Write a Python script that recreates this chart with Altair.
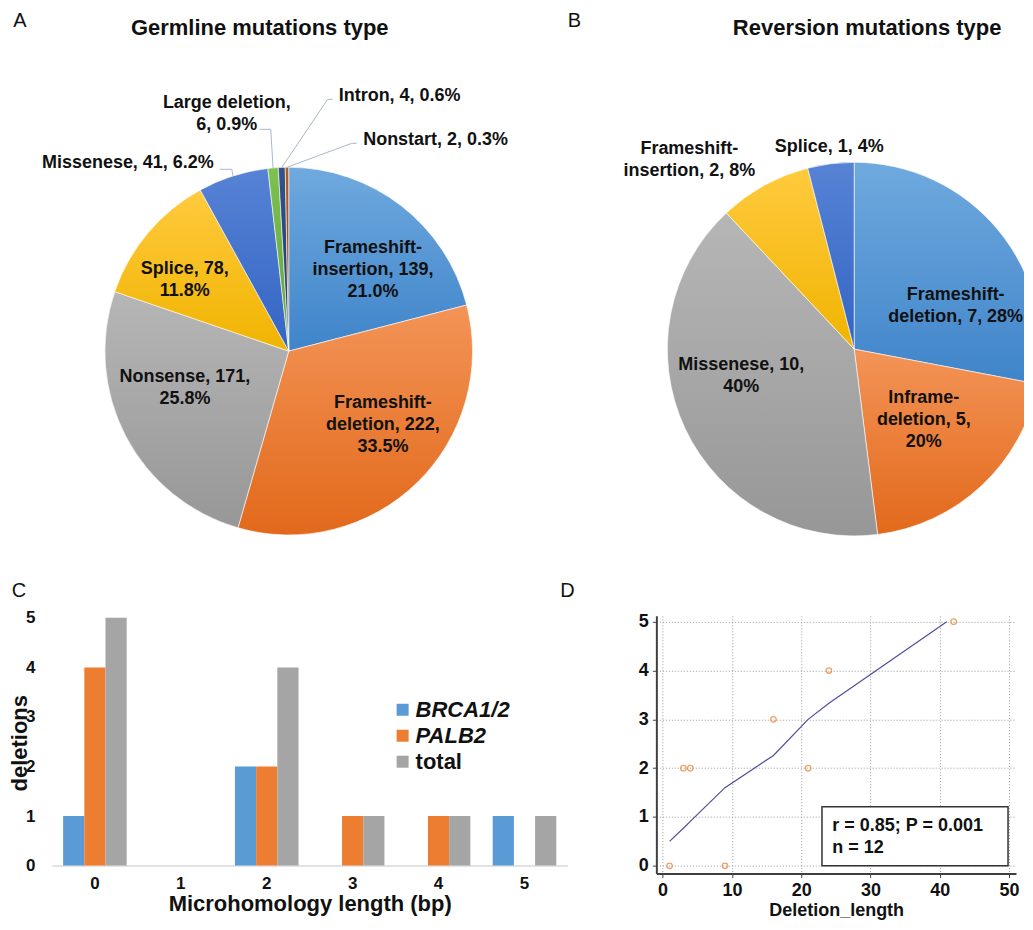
import altair as alt
import pandas as pd

FONT = "Liberation Sans"
INK = "#111111"

# ---------------- data ----------------
# A: germline mutation types (clockwise from 12 o'clock)
germ_types = ["Frameshift-insertion", "Frameshift-deletion", "Nonsense", "Splice",
              "Missenese", "Large deletion", "Intron", "Nonstart"]
germ_counts = [139, 222, 171, 78, 41, 6, 4, 2]
germ_labels = ["Frameshift-\ninsertion, 139,\n21.0%", "Frameshift-\ndeletion, 222,\n33.5%",
               "Nonsense, 171,\n25.8%", "Splice, 78,\n11.8%", "Missenese, 41, 6.2%",
               "Large deletion,\n6, 0.9%", "Intron, 4, 0.6%", "Nonstart, 2, 0.3%"]

# B: reversion mutation types
rev_types = ["Frameshift-deletion", "Inframe-deletion", "Missenese", "Frameshift-insertion", "Splice"]
rev_counts = [7, 5, 10, 2, 1]
rev_labels = ["Frameshift-\ndeletion, 7, 28%", "Inframe-\ndeletion, 5,\n20%", "Missenese, 10,\n40%",
              "Frameshift-\ninsertion, 2, 8%", "Splice, 1, 4%"]

# C: microhomology length vs deletions
mh_length = ["0", "1", "2", "3", "4", "5"]
gene_names = ["BRCA1/2", "PALB2", "total"]
brca_del = [1, 0, 2, 0, 0, 1]
palb2_del = [4, 0, 2, 1, 1, 0]
total_del = [5, 0, 4, 1, 1, 1]

# D: deletion length vs microhomology
del_length = [1, 9, 3, 4, 16, 21, 24, 42]
del_mh = [0, 0, 2, 2, 3, 2, 4, 5]
fit_length = [1, 3, 4, 9, 16, 21, 24, 41]
fit_mh = [0.5, 0.77, 0.91, 1.6, 2.26, 3.0, 3.33, 5.0]
stat_lines = ["r = 0.85; P = 0.001", "n = 12"]

# ---------------- styles ----------------
BLUE = ("#6FA9DE", "#3F84CA")
ORANGE = ("#F39457", "#E2691B")
GREY = ("#B6B6B6", "#979797")
YELLOW = ("#FFCA3E", "#F0B400")
DKBLUE = ("#5683D5", "#3464C4")
GREEN = ("#7DC152", "#5FA23A")
NAVY = ("#34528C", "#1F3A66")
BROWN = ("#B35C24", "#8A3C0A")
germ_fills = [BLUE, ORANGE, GREY, YELLOW, DKBLUE, GREEN, NAVY, BROWN]
rev_fills = [BLUE, ORANGE, GREY, YELLOW, DKBLUE]
gene_colors = ["#5B9BD5", "#ED7D31", "#A5A5A5"]
LEADER = "#A9B8C8"
LABEL_R = 115
LINE_H = 22


def grad(pair):
    return {"gradient": "linear", "x1": 0, "y1": 0, "x2": 0, "y2": 1,
            "stops": [{"offset": 0, "color": pair[0]}, {"offset": 1, "color": pair[1]}]}


def one_text(t, x, y, size, weight="bold", align="center"):
    return alt.Chart(pd.DataFrame({"t": [t]})).mark_text(
        font=FONT, fontSize=size, fontWeight=weight, color=INK, align=align, baseline="middle"
    ).encode(text="t:N", x=alt.value(x), y=alt.value(y))


def block_shift(label):
    # vega anchors the first line; centre the whole block instead
    return -label.count("\n") * LINE_H / 2


def pie_panel(types, counts, labels, fills, cx, cy, r, inner, outer, leaders,
              title, title_xy, letter, letter_xy, width, height):
    df = pd.DataFrame({"type": types, "count": counts, "label": labels,
                       "order": list(range(len(types)))})
    lab = dict(zip(types, labels))
    base = alt.Chart(df)
    theta = alt.Theta("count:Q", stack=True)
    order = alt.Order("order:Q", sort="ascending")
    conds = [{"test": f"datum.type == '{t}'", "value": grad(f)} for t, f in zip(types[:-1], fills[:-1])]
    fill = alt.FillValue(value=grad(fills[-1]), condition=conds)
    layers = [base.mark_arc(radius=r, stroke="white", strokeWidth=0.6, clip=True).encode(
        theta=theta, order=order, detail="type:N", fill=fill,
        x=alt.value(cx), y=alt.value(cy))]
    txt = dict(font=FONT, fontSize=18, fontWeight="bold", color=INK, lineBreak="\n",
               lineHeight=LINE_H, align="center", baseline="middle")
    for name, (dx, dy) in inner.items():
        layers.append(base.mark_text(radius=LABEL_R, dx=dx, dy=dy + block_shift(lab[name]), **txt).encode(
            theta=theta, order=order, detail="type:N",
            text=alt.condition(f"datum.type == '{name}'", alt.Text("label:N"), alt.value("")),
            x=alt.value(cx), y=alt.value(cy)))
    for name, (lx, ly) in outer.items():
        layers.append(base.transform_filter(alt.datum.type == name).mark_text(**txt).encode(
            text="label:N", x=alt.value(lx), y=alt.value(ly + block_shift(lab[name]))))
    geo = base.transform_joinaggregate(tot="sum(count)").transform_window(
        cum="sum(count)", sort=[alt.SortField("order")], frame=[None, 0]
    ).transform_calculate(
        mid="2*PI*(datum.cum - datum.count/2)/datum.tot",
        ex=f"{cx} + {r}*sin(datum.mid)",
        ey=f"{cy} - {r}*cos(datum.mid)")
    for name, (x0, x1, yl) in leaders.items():
        seg = geo.transform_filter(alt.datum.type == name)
        layers.append(seg.mark_rule(color=LEADER, strokeWidth=1).encode(
            x=alt.value(x0), x2=alt.value(x1), y=alt.value(yl), y2=alt.value(yl)))
        layers.append(seg.mark_rule(color=LEADER, strokeWidth=1).encode(
            x=alt.X("ex:Q", scale=None, axis=None), y=alt.Y("ey:Q", scale=None, axis=None),
            x2=alt.value(x1), y2=alt.value(yl)))
    layers.append(one_text(title, title_xy[0], title_xy[1], 22))
    layers.append(one_text(letter, letter_xy[0], letter_xy[1], 20, weight="normal"))
    return alt.layer(*layers).properties(width=width, height=height)


pieA = pie_panel(
    germ_types, germ_counts, germ_labels, germ_fills, 237, 342, 184,
    inner={"Frameshift-insertion": (14, 10), "Frameshift-deletion": (14, -8),
           "Nonsense": (-2, -16), "Splice": (-16, 3)},
    outer={"Missenese": (76, 154), "Large deletion": (175, 105),
           "Intron": (348, 87), "Nonstart": (384, 131)},
    leaders={"Missenese": (168, 180, 160), "Large deletion": (208, 219, 120),
             "Intron": (281, 276, 90), "Nonstart": (305, 300, 134)},
    title="Germline mutations type", title_xy=(208, 19), letter="A", letter_xy=(-32, 12),
    width=516, height=580)

pieB = pie_panel(
    rev_types, rev_counts, rev_labels, rev_fills, 198, 340, 187,
    inner={"Frameshift-deletion": (13, 30), "Inframe-deletion": (-9, -13), "Missenese": (-9, -22)},
    outer={"Frameshift-insertion": (33, 151), "Splice": (173, 138)},
    leaders={},
    title="Reversion mutations type", title_xy=(211, 19), letter="B", letter_xy=(-82, 12),
    width=368, height=580)

# ---------------- C: grouped bars ----------------
bar_df = pd.DataFrame({
    "length": mh_length * 3,
    "gene": [g for g in gene_names for _ in mh_length],
    "deletions": brca_del + palb2_del + total_del,
})
bars = alt.Chart(bar_df).mark_bar().encode(
    x=alt.X("length:N", sort=mh_length,
            scale=alt.Scale(paddingInner=0.26, paddingOuter=0.13),
            axis=alt.Axis(title="Microhomology length (bp)", labelAngle=0, labelFont=FONT,
                          labelFontSize=17, labelFontWeight="bold", labelColor=INK, labelPadding=10,
                          ticks=False, domainColor="#D9D9D9", domainWidth=1.5, grid=False,
                          titleFont=FONT, titleFontSize=22, titleFontWeight="bold",
                          titleColor=INK, titleY=28)),
    xOffset=alt.XOffset("gene:N", sort=gene_names,
                        scale=alt.Scale(paddingInner=0, paddingOuter=0)),
    y=alt.Y("deletions:Q", scale=alt.Scale(domain=[0, 5.04], nice=False),
            axis=alt.Axis(values=[0, 1, 2, 3, 4, 5], format="d", title="deletions",
                          domain=False, ticks=False, grid=False, labelPadding=17,
                          labelFont=FONT, labelFontSize=17, labelFontWeight="bold", labelColor=INK,
                          titleFont=FONT, titleFontSize=22, titleFontWeight="bold", titleColor=INK,
                          titleX=-20, titleY=127)),
    color=alt.Color("gene:N", sort=gene_names,
                    scale=alt.Scale(domain=gene_names, range=gene_colors),
                    legend=alt.Legend(title=None, orient="none", legendX=340, legendY=83,
                                      symbolType="square", symbolSize=144, symbolStrokeWidth=0,
                                      labelFont=FONT, labelFontSize=22, labelFontWeight="bold",
                                      labelFontStyle=alt.ExprRef(expr="datum.value == 'total' ? 'normal' : 'italic'"),
                                      labelColor=INK, labelOffset=2, rowPadding=4, padding=0)),
)
panelC = alt.layer(bars, one_text("C", -33, -25, 20, weight="normal")).properties(width=516, height=250)

# ---------------- D: scatter + fit ----------------
xsc = alt.Scale(domain=[-0.9, 51], nice=False, zero=False)
ysc = alt.Scale(domain=[-0.16, 5.12], nice=False, zero=False)
common_ax = dict(grid=True, gridColor="#9A9A9A", gridDash=[1, 2], gridWidth=1,
                 domainColor="#404040", domainWidth=2, tickColor="#404040", tickSize=4,
                 labelFont=FONT, labelFontSize=18, labelFontWeight="bold", labelColor=INK)
xax = alt.Axis(values=[0, 10, 20, 30, 40, 50], title="Deletion_length", labelPadding=4,
               titleFont=FONT, titleFontSize=18, titleFontWeight="bold", titleColor=INK,
               titleY=28, **common_ax)
yax = alt.Axis(values=[0, 1, 2, 3, 4, 5], title=None, labelPadding=4, **common_ax)

fit = alt.Chart(pd.DataFrame({"len": fit_length, "mh": fit_mh})).mark_line(
    color="#4D4D9F", strokeWidth=1.2).encode(
    x=alt.X("len:Q", scale=xsc, axis=xax), y=alt.Y("mh:Q", scale=ysc, axis=yax))
pts = alt.Chart(pd.DataFrame({"len": del_length, "mh": del_mh})).mark_point(
    shape="circle", filled=False, color="#E97B2E", size=30, strokeWidth=1.3).encode(
    x="len:Q", y="mh:Q")

BOX = (23, 49.85, 0, 1.21)          # stats box, in data units
STAT_X, STAT_Y = 24.5, [0.82, 0.37]  # stats text anchor, in data units
box = alt.Chart(pd.DataFrame({"len": [BOX[0]], "len2": [BOX[1]], "mh": [BOX[2]], "mh2": [BOX[3]]})).mark_rect(
    fill="white", stroke="#333333", strokeWidth=1.5).encode(x="len:Q", x2="len2", y="mh:Q", y2="mh2")
stats = alt.Chart(pd.DataFrame({"len": [STAT_X] * 2, "mh": STAT_Y, "t": stat_lines})).mark_text(
    font=FONT, fontSize=18, fontWeight="bold", color=INK, align="left", baseline="middle").encode(
    x="len:Q", y="mh:Q", text="t:N")

panelD = alt.layer(fit, pts, box, stats, one_text("D", -89, -25, 20, weight="normal")).properties(
    width=360, height=258)

chart = alt.concat(
    pieA, pieB, panelC, panelD, columns=2,
    spacing={"row": 27, "column": 89}, bounds="flush"
).resolve_scale(color="independent", theta="independent").configure_view(
    stroke="transparent").properties(padding=0, background="white")

chart.save("out.html", embed_options={"renderer": "svg", "actions": False})
